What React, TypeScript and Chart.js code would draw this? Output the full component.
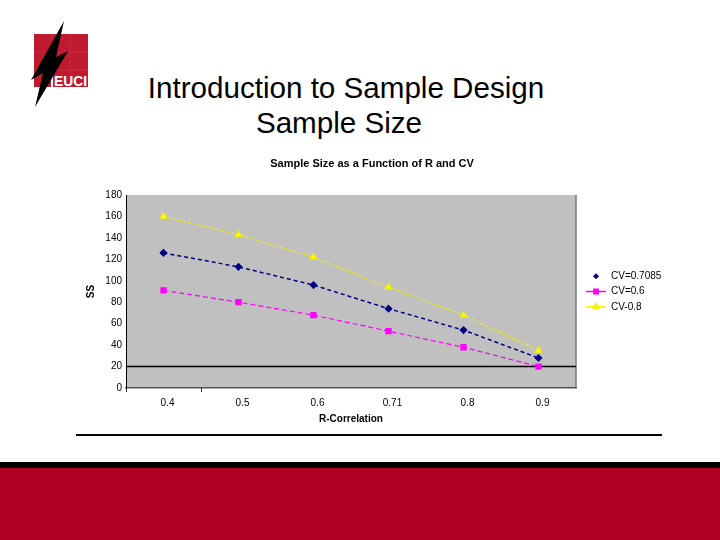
import React, { useEffect, useRef } from "react";
import { Chart, registerables } from "chart.js";
import { drawPoint } from "chart.js/helpers";

Chart.register(...registerables);

// ---- data ----
const categories = ["0.4", "0.5", "0.6", "0.71", "0.8", "0.9"];
const seriesLabels = ["CV=0.7085", "CV=0.6", "CV-0.8"];
const cv07085 = [126, 113, 96, 74, 54, 28];
const cv06 = [91, 80, 68, 53, 38, 20];
const cv08 = [160, 143, 122, 94, 68, 35];
const yMin = 0;
const yMax = 180;
const yStep = 20;
const referenceValue = 20;
const chartTitle = "Sample Size as a Function of R and CV";
const xTitle = "R-Correlation";
const yTitle = "SS";
const slideTitle1 = "Introduction to Sample Design";
const slideTitle2 = "Sample Size";

const FONT = "'Liberation Sans', Arial, Helvetica, sans-serif";
const legendShowLine = [false, true, true];

const excelPlugin = {
  id: "excelLook",
  beforeDraw(chart: any) {
    const { ctx, chartArea: a } = chart;
    ctx.save();
    ctx.fillStyle = "#c0c0c0";
    ctx.fillRect(a.left, a.top, a.right - a.left, a.bottom - a.top);
    ctx.strokeStyle = "#7a7a7a";
    ctx.lineWidth = 1.5;
    ctx.beginPath();
    ctx.moveTo(a.right, a.top);
    ctx.lineTo(a.right, a.bottom);
    ctx.stroke();
    ctx.fillStyle = "#000";
    ctx.font = `bold 11px ${FONT}`;
    ctx.textAlign = "center";
    ctx.textBaseline = "middle";
    ctx.fillText(chartTitle, 302, 13.5);
    ctx.restore();
  },
  beforeDatasetsDraw(chart: any) {
    const { ctx, chartArea: a, scales } = chart;
    const y = scales.y.getPixelForValue(referenceValue);
    ctx.save();
    ctx.strokeStyle = "#000";
    ctx.lineWidth = 1.5;
    ctx.beginPath();
    ctx.moveTo(a.left, y);
    ctx.lineTo(a.right, y);
    ctx.stroke();
    const xt = (scales.x.getPixelForValue(0) + scales.x.getPixelForValue(1)) / 2;
    ctx.lineWidth = 1;
    ctx.strokeStyle = "#303030";
    ctx.beginPath();
    ctx.moveTo(Math.round(xt) + 0.5, a.bottom);
    ctx.lineTo(Math.round(xt) + 0.5, a.bottom + 4);
    ctx.moveTo(a.left + 0.5, a.bottom);
    ctx.lineTo(a.left + 0.5, a.bottom + 4);
    ctx.stroke();
    ctx.restore();
  },
  afterDraw(chart: any) {
    const { ctx, chartArea: a } = chart;
    const mid = (a.top + a.bottom) / 2;
    const mx = a.right + 20;
    ctx.save();
    chart.data.datasets.forEach((ds: any, i: number) => {
      const y = mid + (i - 1) * 15.3;
      if (legendShowLine[i]) {
        ctx.strokeStyle = ds.borderColor;
        ctx.lineWidth = 1.5;
        ctx.setLineDash([]);
        ctx.beginPath();
        ctx.moveTo(mx - 10, y);
        ctx.lineTo(mx + 10, y);
        ctx.stroke();
      }
      ctx.fillStyle = ds.pointBackgroundColor;
      ctx.strokeStyle = ds.pointBorderColor;
      drawPoint(ctx, { pointStyle: ds.pointStyle, radius: ds.pointRadius * 0.85, rotation: 0, borderWidth: 1 }, mx, y);
      ctx.fillStyle = "#000";
      ctx.font = `10px ${FONT}`;
      ctx.textBaseline = "middle";
      ctx.textAlign = "left";
      ctx.fillText(ds.label, mx + 15, y);
    });
    ctx.restore();
  },
};

function ChartView() {
  const ref = useRef<HTMLCanvasElement | null>(null);
  useEffect(() => {
    if (!ref.current) return;
    const chart = new Chart(ref.current, {
      type: "line",
      data: {
        labels: categories,
        datasets: [
          {
            label: seriesLabels[0],
            data: cv07085,
            borderColor: "#000080",
            backgroundColor: "#000080",
            pointBackgroundColor: "#000080",
            pointBorderColor: "#000080",
            borderWidth: 1.5,
            borderDash: [4, 3],
            pointStyle: "rectRot",
            pointRadius: 3,
            tension: 0,
          },
          {
            label: seriesLabels[1],
            data: cv06,
            borderColor: "#ff00ff",
            backgroundColor: "#ff00ff",
            pointBackgroundColor: "#ff00ff",
            pointBorderColor: "#ff00ff",
            borderWidth: 1.2,
            borderDash: [5, 3],
            pointStyle: "rect",
            pointRadius: 3.6,
            tension: 0,
          },
          {
            label: seriesLabels[2],
            data: cv08,
            borderColor: "#f0f000",
            backgroundColor: "#ffff00",
            pointBackgroundColor: "#ffff00",
            pointBorderColor: "#f0f000",
            borderWidth: 1.2,
            borderDash: [3, 2],
            pointStyle: "triangle",
            pointRadius: 3.6,
            tension: 0,
          },
        ],
      },
      options: {
        responsive: false,
        animation: false,
        layout: { padding: { left: 0, right: 94, top: 45, bottom: 0 } },
        plugins: {
          legend: { display: false },
          tooltip: { enabled: false },
          title: { display: false },
        },
        scales: {
          x: {
            type: "category",
            offset: true,
            grid: { display: false, drawTicks: false },
            border: { display: true, color: "#505050", width: 1.5 },
            ticks: { color: "#000", font: { family: FONT, size: 10 }, padding: 9, labelOffset: 4, maxRotation: 0 },
            title: {
              display: true,
              text: xTitle,
              color: "#000",
              font: { family: FONT, size: 10, weight: "bold" },
              padding: { top: 0, bottom: 5 },
            },
            afterFit: (s: any) => {
              s.height = 42;
            },
          },
          y: {
            min: yMin,
            max: yMax,
            grid: { display: false, drawTicks: false },
            border: { display: true, color: "#000", width: 1 },
            ticks: { stepSize: yStep, color: "#000", font: { family: FONT, size: 10 }, padding: 4 },
            title: {
              display: true,
              text: yTitle,
              color: "#000",
              font: { family: FONT, size: 10, weight: "bold" },
              padding: { top: 15, bottom: 0 },
            },
            afterFit: (s: any) => {
              s.width = 56;
            },
          },
        },
      },
      plugins: [excelPlugin],
    } as any);
    return () => chart.destroy();
  }, []);
  return (
    <canvas
      ref={ref}
      width={600}
      height={280}
      style={{ position: "absolute", left: 70, top: 150, width: 600, height: 280 }}
    />
  );
}

function Logo() {
  return (
    <svg width={90} height={110} style={{ position: "absolute", left: 0, top: 0 }} viewBox="0 0 90 110">
      <rect x={34} y={34} width={54} height={53} fill="#bf1a2f" />
      <g stroke="#c93a4b" strokeWidth={0.6}>
        <line x1={52} y1={34} x2={52} y2={87} />
        <line x1={70} y1={34} x2={70} y2={87} />
        <line x1={34} y1={52} x2={88} y2={52} />
        <line x1={34} y1={70} x2={88} y2={70} />
      </g>
      <rect x={51} y={70} width={2} height={17} fill="#ffffff" />
      <text
        x={54}
        y={86}
        fill="#ffffff"
        fontFamily={FONT}
        fontWeight="bold"
        fontSize={15}
        textLength={33}
        lengthAdjust="spacingAndGlyphs"
      >
        EUCI
      </text>
      <polygon points="64,21 56,57 68,51 35,107 43,73 31,80" fill="#000" />
    </svg>
  );
}

export default function App() {
  const titleStyle: React.CSSProperties = {
    position: "absolute",
    width: 500,
    textAlign: "center",
    fontSize: 29.6,
    lineHeight: "34px",
    color: "#000",
    whiteSpace: "nowrap",
  };
  return (
    <div
      style={{
        position: "fixed",
        left: 0,
        top: 0,
        width: 720,
        height: 540,
        background: "#fff",
        overflow: "hidden",
        fontFamily: FONT,
      }}
    >
      <Logo />
      <div style={{ ...titleStyle, left: 96, top: 71 }}>{slideTitle1}</div>
      <div style={{ ...titleStyle, left: 89, top: 106 }}>{slideTitle2}</div>
      <ChartView />
      <div style={{ position: "absolute", left: 76, top: 434, width: 586, height: 2, background: "#000" }} />
      <div style={{ position: "absolute", left: 0, top: 462, width: 720, height: 6, background: "#000" }} />
      <div style={{ position: "absolute", left: 0, top: 468, width: 720, height: 72, background: "#b20024" }} />
    </div>
  );
}
